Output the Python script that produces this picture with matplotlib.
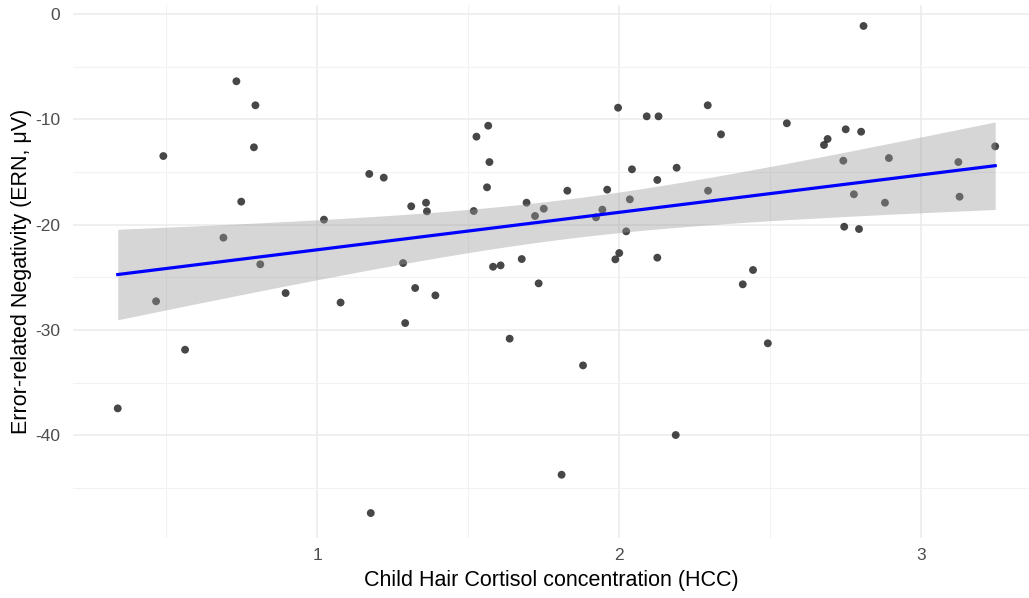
import numpy as np
import matplotlib
matplotlib.use('Agg')
import matplotlib.pyplot as plt
from matplotlib.ticker import MultipleLocator

# child hair cortisol (HCC) and ERN amplitude
hcc = [0.340, 0.467, 0.491, 0.563, 0.690, 0.733, 0.749, 0.791, 0.796, 0.812,
       0.896, 1.023, 1.078, 1.173, 1.178, 1.221, 1.285, 1.292, 1.312, 1.325,
       1.361, 1.364, 1.392, 1.519, 1.528, 1.563, 1.567, 1.571, 1.583, 1.608,
       1.638, 1.678, 1.694, 1.722, 1.734, 1.751, 1.810, 1.829, 1.881, 1.924,
       1.945, 1.961, 1.988, 1.997, 2.001, 2.024, 2.036, 2.043, 2.092, 2.127,
       2.127, 2.131, 2.188, 2.191, 2.294, 2.295, 2.338, 2.410, 2.444, 2.493,
       2.556, 2.679, 2.691, 2.743, 2.746, 2.751, 2.778, 2.795, 2.802, 2.810,
       2.881, 2.894, 3.124, 3.128, 3.246]
ern = [-37.45, -27.28, -13.49, -31.88, -21.24, -6.39, -17.82, -12.66, -8.67, -23.77,
       -26.50, -19.53, -27.40, -15.19, -47.39, -15.54, -23.65, -29.35, -18.26, -26.02,
       -17.92, -18.74, -26.72, -18.71, -11.65, -16.46, -10.61, -14.06, -24.00, -23.87,
       -30.83, -23.27, -17.92, -19.18, -25.58, -18.49, -43.75, -16.78, -33.37, -19.31,
       -18.58, -16.68, -23.30, -8.90, -22.70, -20.64, -17.60, -14.75, -9.72, -15.76,
       -23.14, -9.72, -39.98, -14.60, -8.67, -16.78, -11.43, -25.67, -24.31, -31.27,
       -10.38, -12.44, -11.87, -13.93, -20.20, -10.95, -17.12, -20.42, -11.18, -1.14,
       -17.92, -13.68, -14.06, -17.35, -12.57]

x = np.array(hcc)
y = np.array(ern)

# linear fit with 95% confidence band (like geom_smooth(method = 'lm'))
n = len(x)
b1, b0 = np.polyfit(x, y, 1)
resid = y - (b0 + b1 * x)
s = np.sqrt(np.sum(resid ** 2) / (n - 2))
xs = np.linspace(x.min(), x.max(), 80)
fit = b0 + b1 * xs
se = s * np.sqrt(1.0 / n + (xs - x.mean()) ** 2 / np.sum((x - x.mean()) ** 2))
tcrit = 1.993
lo = fit - tcrit * se
hi = fit + tcrit * se

plt.rcParams['font.family'] = ['Liberation Sans', 'DejaVu Sans']
plt.rcParams['axes.unicode_minus'] = False

fig = plt.figure(figsize = (10.29, 5.98), dpi = 100)
ax = fig.add_axes([0.0707, 0.1003, 0.9293, 0.8913])

ax.scatter(x, y, s = 32, color = 'black', alpha = 0.72, edgecolors = 'none', zorder = 2)
ax.fill_between(xs, lo, hi, color = '#999999', alpha = 0.4, linewidth = 0, zorder = 3)
ax.plot(xs, fit, color = 'blue', linewidth = 2.3, zorder = 4)

ax.set_xlim(0.191, 3.358)
ax.set_ylim(-49.76, 0.85)
ax.xaxis.set_major_locator(MultipleLocator(1))
ax.xaxis.set_minor_locator(MultipleLocator(0.5))
ax.yaxis.set_major_locator(MultipleLocator(10))
ax.yaxis.set_minor_locator(MultipleLocator(5))
ax.grid(which = 'major', color = '#ebebeb', linewidth = 1.1, zorder = 0)
ax.grid(which = 'minor', color = '#f2f2f2', linewidth = 0.8, zorder = 0)
ax.set_axisbelow(True)
for sp in ax.spines.values():
    sp.set_visible(False)
ax.tick_params(which = 'both', length = 0, labelsize = 12.5, labelcolor = '#4d4d4d', pad = 7)
ax.tick_params(axis = 'y', pad = 9)

ax.set_xlabel('Child Hair Cortisol concentration (HCC)', fontsize = 15.5, labelpad = 5)
ax.set_ylabel('Error-related Negativity (ERN, μV)', fontsize = 15.5, labelpad = 2)

fig.savefig('out.png', dpi = 100)
plt.close()
